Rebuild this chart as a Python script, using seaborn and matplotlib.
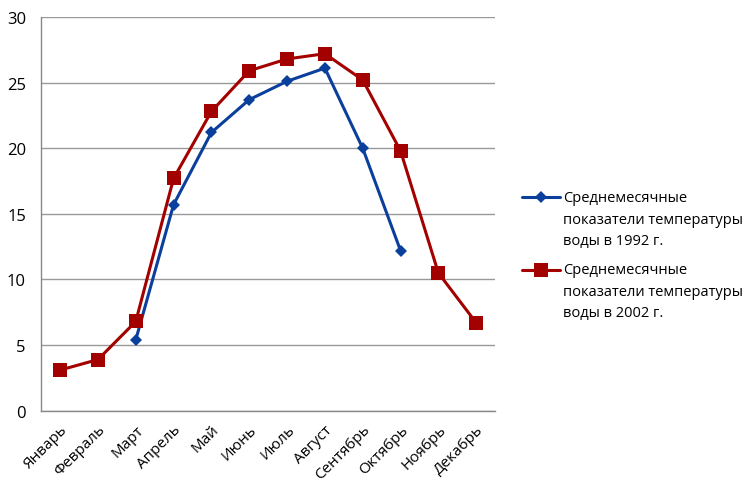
import pandas as pd
import numpy as np
import matplotlib.pyplot as plt
import seaborn as sns
from matplotlib.legend_handler import HandlerLine2D

# Month labels
months = ['Январь', 'Февраль', 'Март', 'Апрель', 'Май', 'Июнь',
          'Июль', 'Август', 'Сентябрь', 'Октябрь', 'Ноябрь', 'Декабрь']

# Mean monthly water temperature (1992 only March..October)
months_1992 = ['Март', 'Апрель', 'Май', 'Июнь', 'Июль', 'Август', 'Сентябрь', 'Октябрь']
temp_1992 = [5.4, 15.7, 21.2, 23.7, 25.1, 26.1, 20.0, 12.2]
temp_2002 = [3.1, 3.9, 6.8, 17.7, 22.8, 25.9, 26.8, 27.2, 25.2, 19.8, 10.5, 6.7]

label_1992 = 'Среднемесячные\nпоказатели температуры\nводы в 1992 г.'
label_2002 = 'Среднемесячные\nпоказатели температуры\nводы в 2002 г.'

# Build long-form table
df = pd.concat([
    pd.DataFrame({'Month': [months.index(m) for m in months_1992],
                  'Temp': temp_1992, 'Series': label_1992}),
    pd.DataFrame({'Month': list(range(len(months))),
                  'Temp': temp_2002, 'Series': label_2002}),
])


# legend handle lined up with the first text line (Excel style)
class TopHandler(HandlerLine2D):
    def __init__(self, shift, **kw):
        super().__init__(**kw)
        self.shift = shift

    def create_artists(self, legend, orig_handle, xdescent, ydescent,
                       width, height, fontsize, trans):
        artists = super().create_artists(legend, orig_handle, xdescent, ydescent,
                                         width, height, fontsize, trans)
        for a in artists:
            a.set_ydata(np.asarray(a.get_ydata()) + self.shift)
        return artists


sns.set_style('white')
plt.rcParams['font.family'] = ['Open Sans', 'DejaVu Sans']
plt.rcParams['text.color'] = 'black'
plt.rcParams['xtick.labelcolor'] = 'black'
plt.rcParams['ytick.labelcolor'] = 'black'

fig = plt.figure(figsize=(7.49, 4.85), dpi=100)
ax = fig.add_axes([0.055, 0.151, 0.606, 0.812])

sns.lineplot(
    data=df, x='Month', y='Temp',
    hue='Series', style='Series',
    hue_order=[label_1992, label_2002],
    palette=['#0b3f9c', '#a30000'],
    markers={label_1992: 'D', label_2002: 's'},
    dashes=False,
    linewidth=2.2,
    markeredgewidth=0,
    ax=ax
)
for line in ax.lines:
    if line.get_marker() == 's':
        line.set_markersize(10)
    else:
        line.set_markersize(6.5)

ax.set_xlim(-0.5, len(months) - 0.5)
ax.set_ylim(0, 30)
ax.set_yticks(range(0, 31, 5))
ax.set_xticks(range(len(months)))
ax.set_xticklabels(months, rotation=45, ha='right', rotation_mode='anchor', fontsize=11)
ax.set_xticks(np.arange(-0.5, len(months)), minor=True)
ax.tick_params(axis='x', which='major', length=0, pad=8)
ax.tick_params(axis='x', which='minor', length=5, color='#888888', direction='out')
ax.tick_params(axis='y', length=5, color='#888888', direction='out', labelsize=12, pad=6)
ax.set_xlabel('')
ax.set_ylabel('')

ax.yaxis.grid(True, color='#999999', linewidth=1)
ax.set_axisbelow(True)
for side in ['top', 'right']:
    ax.spines[side].set_visible(False)
for side in ['left', 'bottom']:
    ax.spines[side].set_color('#888888')
    ax.spines[side].set_linewidth(1)

handles, labels = ax.get_legend_handles_labels()
leg = ax.legend(
    handles, labels,
    loc='center left', bbox_to_anchor=(1.03, 0.395),
    frameon=False, fontsize=10.5, handlelength=2.6,
    labelspacing=1.0, handletextpad=0.2,
    handler_map={h: TopHandler(15.8) for h in handles}
)
for t in leg.get_texts():
    t.set_linespacing(1.58)
for h in leg.legend_handles:
    h.set_linewidth(2.2)

fig.savefig('out.png', dpi=100)
